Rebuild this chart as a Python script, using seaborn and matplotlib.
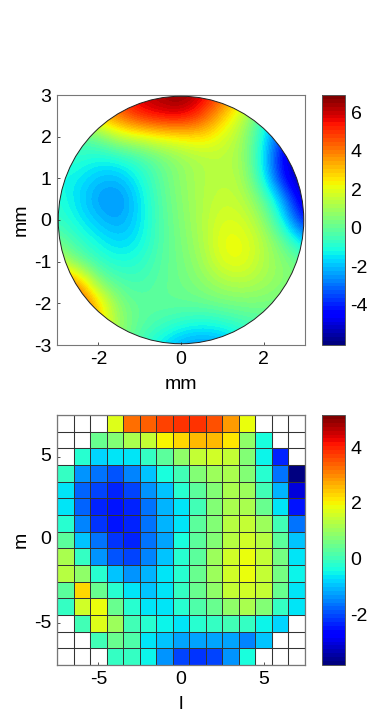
import numpy as np
import pandas as pd
import matplotlib
matplotlib.use("Agg")
import matplotlib.pyplot as plt
from matplotlib.patches import Circle
import seaborn as sns

n = np.nan
mode_l = [-7, -6, -5, -4, -3, -2, -1, 0, 1, 2, 3, 4, 5, 6, 7]
mode_m = [7, 6, 5, 4, 3, 2, 1, 0, -1, -2, -3, -4, -5, -6, -7]
coeffs = [
    [n, n, n, 1.7, 3.2, 3.35, 3.7, 3.85, 3.85, 3.5, 2.9, 1.8, n, n, n],
    [n, n, 0.4, 0.8, 1.1, 1.4, 2.0, 2.25, 2.55, 2.5, 2.15, 0.9, -0.4, n, n],
    [n, -0.2, -0.8, -0.7, -0.6, -0.1, 0.3, 0.9, 1.4, 1.6, 1.4, 0.7, -0.5, -2.3, n],
    [-0.15, -1.3, -1.7, -1.9, -1.5, -0.9, -0.4, 0.1, 0.7, 1.0, 1.1, 0.8, -0.2, -1.7, -3.7],
    [-0.6, -1.8, -2.1, -2.4, -2.1, -1.4, -0.9, -0.2, 0.3, 0.8, 1.1, 1.0, 0.0, -1.1, -3.1],
    [-0.7, -1.8, -2.3, -2.5, -2.4, -1.6, -1.1, -0.6, 0.1, 0.7, 1.2, 1.2, 0.5, -0.6, -2.5],
    [-0.2, -1.5, -2.2, -2.5, -2.3, -1.6, -1.1, -0.6, 0.3, 0.8, 1.3, 1.5, 1.0, 0.0, -1.7],
    [0.3, -1.0, -1.7, -2.2, -2.3, -1.6, -1.2, -0.4, 0.3, 0.8, 1.3, 1.6, 1.3, 0.3, -1.0],
    [1.2, -0.1, -1.3, -1.9, -2.0, -1.5, -1.0, -0.3, 0.3, 1.0, 1.6, 1.85, 1.5, 0.6, -0.7],
    [1.3, 0.9, -0.2, -1.0, -1.4, -1.1, -0.7, -0.2, 0.4, 1.0, 1.6, 1.85, 1.5, 0.6, -0.5],
    [0.3, 2.25, 0.4, -0.2, -0.7, -0.9, -0.6, -0.1, 0.4, 0.9, 1.4, 1.6, 1.4, 0.5, -0.7],
    [-0.1, 1.6, 1.9, 0.4, -0.2, -0.6, -0.6, -0.2, 0.2, 0.5, 0.9, 1.1, 0.8, -0.1, -0.6],
    [n, 0.0, 1.7, 1.0, 0.1, -0.2, -0.5, -0.6, -0.3, -0.1, 0.1, -0.1, -0.5, -0.8, n],
    [n, n, 0.0, 0.5, 0.2, -0.6, -0.9, -1.2, -1.2, -1.2, -1.2, -1.5, -0.9, n, n],
    [n, n, n, -0.1, -0.1, -0.5, -1.4, -2.1, -2.2, -2.1, -1.4, -0.4, n, n, n],
]
surface = [
    [3.0, 3.0, 3.5, 5.0, 6.0, 6.4, 6.9, 6.0, 4.5, 2.5, 1.0, -1.0, -3.0],
    [2.5, 2.5, 3.2, 4.2, 5.3, 5.7, 5.8, 4.8, 3.0, 1.5, -0.7, -3.5, -5.0],
    [-0.5, -0.3, 0.2, 1.5, 1.8, 2.2, 2.4, 2.7, 1.9, 1.0, -1.2, -4.0, -5.5],
    [-0.8, -0.8, -1.2, -1.0, -0.5, 0.2, 0.8, 1.2, 1.4, 1.0, -1.5, -5.0, -5.8],
    [-1.2, -1.4, -2.0, -2.1, -1.2, -0.1, 0.7, 1.2, 1.4, 1.2, -1.2, -4.5, -6.0],
    [-0.9, -1.6, -2.5, -2.75, -1.6, -0.2, 0.6, 1.2, 1.6, 1.4, 0.1, -2.5, -5.5],
    [-0.7, -1.3, -2.0, -2.4, -1.6, -0.3, 0.5, 1.2, 1.9, 1.8, 0.8, -1.5, -4.5],
    [0.2, -0.7, -1.3, -1.8, -1.4, -0.3, 0.4, 1.1, 2.2, 2.2, 1.3, 0.0, -2.0],
    [1.5, 0.2, -0.7, -1.1, -0.9, -0.2, 0.3, 0.9, 2.0, 2.2, 1.2, 0.6, 0.0],
    [4.8, 3.6, 0.5, -0.3, -0.5, -0.1, 0.2, 0.6, 1.1, 1.3, 1.0, 0.6, 0.2],
    [5.5, 5.2, 2.8, 0.5, -0.1, 0.0, 0.0, 0.1, 0.3, 0.4, 0.4, 0.2, -0.2],
    [5.5, 5.0, 3.0, 0.8, -0.1, -0.5, -0.9, -1.2, -1.0, -0.6, -0.3, -0.3, -0.5],
    [5.0, 4.0, 2.0, 0.5, -0.5, -1.5, -2.4, -2.6, -2.4, -1.5, -0.8, -0.8, -0.8],
]

sns.set_theme(style="white")
plt.rcParams.update({"font.family": ["Liberation Sans"], "font.size": 14,
                     "axes.unicode_minus": False, "axes.linewidth": 0.8,
                     "axes.edgecolor": "#777777", "xtick.color": "black",
                     "ytick.color": "black", "axes.labelcolor": "black",
                     "text.color": "black"})
W, H = 382, 715
jet = plt.get_cmap("jet", 64)
fig = plt.figure(figsize=(W / 100, H / 100), dpi=100, facecolor="white")

def box(x0, y0, x1, y1):
    return fig.add_axes([x0 / W, 1 - y1 / H, (x1 - x0) / W, (y1 - y0) / H])

def tick_style(ax, length=2.5):
    ax.tick_params(axis="both", which="major", direction="in", length=length, width=0.6,
                   labelsize=14, pad=4, bottom=True, left=True, color="#333333")

# top panel
ax1 = box(57, 95, 305, 345)
im = ax1.imshow(np.array(surface), extent=[-3.25, 3.25, -3.25, 3.25], origin="upper",
                cmap=jet, vmin=-6.1, vmax=6.9, interpolation="bicubic", aspect="auto")
rim = Circle((0, 0), 2.97, transform=ax1.transData, fill=False, ec="#222222", lw=0.7, zorder=3)
ax1.add_patch(rim)
im.set_clip_path(Circle((0, 0), 2.97, transform=ax1.transData))
ax1.set_xlim(-3, 3)
ax1.set_ylim(-3, 3)
ax1.set_xticks([-2, 0, 2])
ax1.set_yticks([-3, -2, -1, 0, 1, 2, 3])
ax1.set_xlabel("mm", fontsize=14, labelpad=6)
ax1.set_ylabel("mm", fontsize=14, labelpad=3)
tick_style(ax1)

cax1 = box(322, 95, 345, 345)
cb1 = fig.colorbar(im, cax=cax1)
cb1.set_ticks([-4, -2, 0, 2, 4, 6])
cb1.outline.set_edgecolor("#555555")
cb1.outline.set_linewidth(0.7)
cax1.tick_params(direction="in", length=2.5, width=0.6, labelsize=14, pad=4, left=True, right=True, color="#333333")

# bottom panel
frame = pd.DataFrame(coeffs, index=mode_m, columns=mode_l)
ax2 = box(57, 415, 305, 665)
cax2 = box(322, 415, 345, 665)
sns.heatmap(frame, ax=ax2, cbar_ax=cax2, cmap=jet, vmin=-3.8, vmax=5.15,
            linewidths=0.5, linecolor="#333333", square=False)
ax2.set_xticks(np.arange(16), minor=True)
ax2.set_yticks(np.arange(16), minor=True)
ax2.grid(which="minor", color="#8a8a8a", lw=0.8)
ax2.set_axisbelow(True)
ax2.tick_params(which="minor", length=0)
ax2.set_xticks([mode_l.index(v) + 0.5 for v in (-5, 0, 5)])
ax2.set_xticklabels(["-5", "0", "5"], rotation=0)
ax2.set_yticks([mode_m.index(v) + 0.5 for v in (5, 0, -5)])
ax2.set_yticklabels(["5", "0", "-5"], rotation=0)
ax2.set_xlabel("l", fontsize=14, labelpad=6)
ax2.set_ylabel("m", fontsize=14, labelpad=3)
tick_style(ax2)
for s in ax2.spines.values():
    s.set_visible(True)
    s.set_edgecolor("#777777")
    s.set_linewidth(0.9)
cb2 = ax2.collections[0].colorbar
cb2.set_ticks([-2, 0, 2, 4])
cb2.outline.set_visible(True)
cb2.outline.set_edgecolor("#555555")
cb2.outline.set_linewidth(0.7)
cax2.tick_params(direction="in", length=2.5, width=0.6, labelsize=14, pad=4, left=True, right=True, color="#333333")

fig.savefig("out.png", dpi=100, facecolor="white")
